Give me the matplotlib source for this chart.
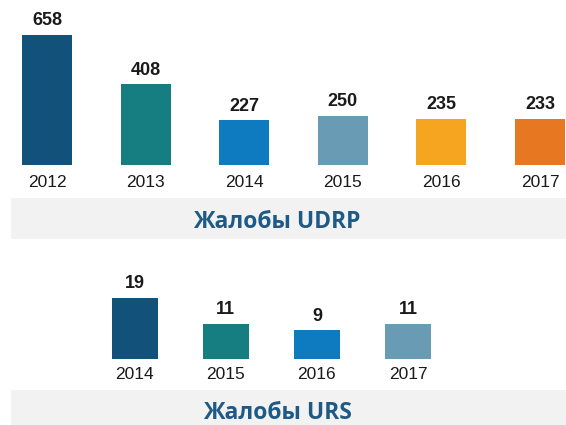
import matplotlib
matplotlib.use("Agg")
import matplotlib.pyplot as plt
from matplotlib.patches import Rectangle

# Data
udrp_years = ["2012", "2013", "2014", "2015", "2016", "2017"]
udrp_values = [658, 408, 227, 250, 235, 233]
udrp_colors = ["#12517A", "#167E80", "#0E7AC0", "#6A9BB5", "#F5A51F", "#E87722"]
udrp_title = "Жалобы UDRP"

urs_years = ["2014", "2015", "2016", "2017"]
urs_values = [19, 11, 9, 11]
urs_colors = ["#12517A", "#167E80", "#0E7AC0", "#6A9BB5"]
urs_title = "Жалобы URS"

W, H = 566, 425
fig = plt.figure(figsize=(W / 100, H / 100), dpi=100)
fig.patch.set_facecolor("white")

num_font = ["Liberation Sans", "DejaVu Sans"]
title_font = ["Open Sans", "DejaVu Sans"]
title_color = "#1E5A85"


def px_rect(x0, y0, x1, y1):
    # pixel coords from top-left -> figure fraction rect
    return [x0 / W, 1 - y1 / H, (x1 - x0) / W, (y1 - y0) / H]


def draw_bars(rect, years, values, colors, xlim, ylim, width, pad):
    ax = fig.add_axes(rect)
    xs = list(range(len(years)))
    ax.bar(xs, values, width=width, color=colors, edgecolor="none")
    for x, v in zip(xs, values):
        ax.annotate(str(v), (x, v), xytext=(0, 4), textcoords="offset points",
                    ha="center", va="bottom", fontsize=13, fontweight="bold",
                    family=num_font, color="#1a1a1a")
    ax.set_xlim(*xlim)
    ax.set_ylim(*ylim)
    ax.set_xticks(xs)
    ax.set_xticklabels(years, fontsize=12.5, family=num_font, color="#1a1a1a")
    ax.tick_params(axis="x", length=0, pad=pad)
    ax.set_yticks([])
    for s in ax.spines.values():
        s.set_visible(False)
    ax.patch.set_alpha(0)
    return ax


# Top chart: bar centers at 47 + 98.6*i px, baseline at y=165 px
c0, step = 47.0, 98.6
draw_bars(px_rect(0, 0, W, 165), udrp_years, udrp_values, udrp_colors,
          ((0 - c0) / step, (W - c0) / step), (0, 658 * 165 / 130), 50 / step, 7)

# Bottom chart: bar centers at 134.5 + 91.2*i px, baseline at y=359 px
c1, step1 = 134.5, 91.2
draw_bars(px_rect(0, 260, W, 359), urs_years, urs_values, urs_colors,
          ((0 - c1) / step1, (W - c1) / step1), (0, 19 * 99 / 61), 46 / step1, 5.5)

# Title bands
for (y0, y1, ty, txt) in [(198, 239, 219, udrp_title), (390, 425, 410, urs_title)]:
    r = px_rect(11, y0, W, y1)
    fig.patches.append(Rectangle((r[0], r[1]), r[2], r[3], transform=fig.transFigure,
                                 facecolor="#F2F2F2", edgecolor="none", zorder=0))
    fig.text(277 / W, 1 - ty / H, txt, ha="center", va="center_baseline",
             fontsize=16.5, fontweight="bold", family=title_font, color=title_color)

fig.savefig("out.png", dpi=100)
